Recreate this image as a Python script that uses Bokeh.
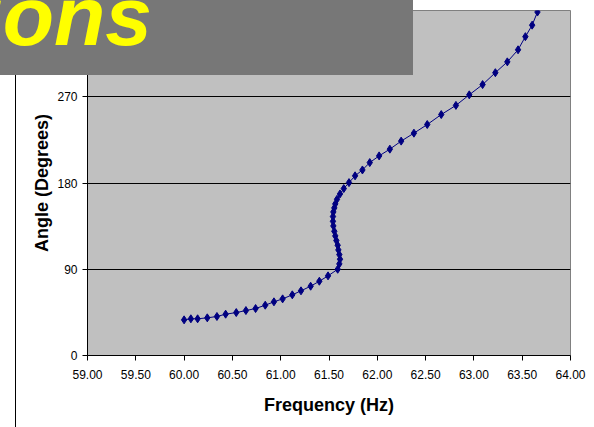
from bokeh.plotting import figure
from bokeh.models import (Range1d, FixedTicker, NumeralTickFormatter, ColumnDataSource,
                          GridBox, Div)
from bokeh.embed import file_html
from bokeh.resources import INLINE

frequency_hz = [60.00, 60.07, 60.14, 60.24, 60.34, 60.43, 60.54, 60.64, 60.74, 60.84,
                60.93, 61.02, 61.12, 61.21, 61.31, 61.40, 61.49, 61.59, 61.607, 61.614,
                61.607, 61.597, 61.590, 61.576, 61.565, 61.555, 61.545, 61.541, 61.541, 61.545,
                61.555, 61.565, 61.583, 61.614, 61.653, 61.707, 61.77, 61.846, 61.922, 62.019,
                62.13, 62.247, 62.379, 62.517, 62.662, 62.814, 62.952, 63.09, 63.222, 63.346,
                63.457, 63.533, 63.603, 63.658, 63.69]
angle_deg = [37.2, 38.3, 38.3, 39.3, 40.7, 43.1, 44.8, 46.9, 49.0, 52.5,
             56.0, 59.1, 63.3, 67.5, 72.3, 77.5, 83.1, 90.0, 95.6, 100.5,
             105.3, 110.2, 115.0, 120.0, 124.8, 129.6, 135.2, 140.0, 145.0, 149.8,
             154.0, 158.2, 163.0, 168.6, 174.2, 180.4, 187.5, 193.6, 201.3, 208.3,
             215.3, 223.7, 232.0, 241.0, 251.4, 261.0, 272.0, 282.7, 295.1, 306.4,
             319.0, 332.7, 344.7, 358.4, 370.0]
x_ticks = [59.0, 59.5, 60.0, 60.5, 61.0, 61.5, 62.0, 62.5, 63.0, 63.5, 64.0]
y_ticks = [0, 90, 180, 270, 360]
grid_ticks = [90, 180, 270]
banner_text = "tions"
x_title = "Frequency (Hz)"
y_title = "Angle (Degrees)"

src = ColumnDataSource(dict(f=frequency_hz, a=angle_deg))

# ---- main chart ----
p = figure(width=594, height=427, x_range=Range1d(59, 64), y_range=Range1d(0, 360),
           output_backend="svg", toolbar_location=None,
           min_border_left=87, min_border_right=24, min_border_top=10, min_border_bottom=72,
           background_fill_color="#C0C0C0", border_fill_color="white",
           outline_line_color="#808080", outline_line_width=1)

p.line("f", "a", source=src, line_color="#000080", line_width=1)
p.scatter("f", "a", source=src, marker="diamond", size=8, fill_color="#000080", line_color="#000080")

for ax in (p.xaxis[0], p.yaxis[0]):
    ax.axis_line_color = "black"
    ax.major_tick_line_color = "black"
    ax.major_tick_out = 5
    ax.major_tick_in = 0
    ax.minor_tick_line_color = None
    ax.major_label_text_font = "Liberation Sans"
    ax.major_label_text_font_size = "12px"
    ax.major_label_text_color = "black"
    ax.axis_label_text_font = "Liberation Sans"
    ax.axis_label_text_font_size = "18px"
    ax.axis_label_text_font_style = "bold"
    ax.axis_label_text_color = "black"

p.xaxis.ticker = FixedTicker(ticks=x_ticks)
p.xaxis.formatter = NumeralTickFormatter(format="0.00")
p.yaxis.ticker = FixedTicker(ticks=y_ticks)
p.xaxis.axis_label = x_title
p.yaxis.axis_label = y_title
p.xaxis.major_label_standoff = 9
p.yaxis.major_label_standoff = 5
p.xaxis.axis_label_standoff = 13
p.yaxis.axis_label_standoff = 2

p.xgrid.visible = False
p.ygrid.ticker = FixedTicker(ticks=grid_ticks)
p.ygrid.grid_line_color = "black"
p.ygrid.grid_line_width = 1

# ---- title banner and chart-area left border, overlaid on the chart ----
overlay_html = (
    '<div style="position:relative;width:413px;height:75px;background:#777777;overflow:hidden;margin:0;padding:0;">'
    '<div style="position:absolute;right:261px;top:-26px;font-family:\'Liberation Sans\';'
    'font-size:84px;font-weight:bold;font-style:italic;line-height:84px;color:#FFFF00;'
    'white-space:nowrap;margin:0;padding:0;">' + banner_text + '</div></div>'
    '<div style="margin:0 0 0 15px;padding:0;width:0;height:352px;border-left:1px solid black;"></div>'
)
overlay = Div(text=overlay_html, width=413, height=427, margin=0)

layout = GridBox(children=[(p, 0, 0), (overlay, 0, 0)])

open("out.html", "w").write(file_html(layout, INLINE))
